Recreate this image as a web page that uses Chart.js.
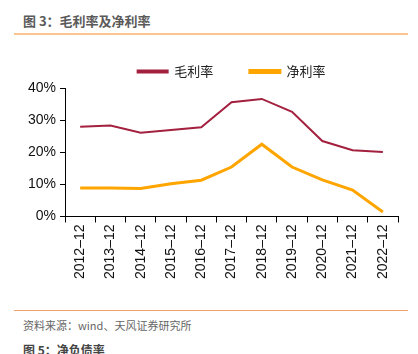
<!DOCTYPE html>
<html>
<head>
<meta charset="utf-8">
<script src="https://cdn.jsdelivr.net/npm/chart.js@4.4.0/dist/chart.umd.min.js"></script>
<style>
  body { margin: 0; background: #fff; width: 418px; height: 354px; overflow: hidden; position: relative; font-family: "Liberation Sans", "Noto Sans CJK SC", sans-serif; }
  #title { position: absolute; left: 23px; top: 11px; font-size: 13px; font-weight: bold; color: #5a5a5a; font-family: "Noto Sans CJK SC", sans-serif; }
  #topline { position: absolute; left: 14px; top: 33px; width: 394px; height: 2px; background: #FBC490; }
  #botline { position: absolute; left: 14px; top: 310px; width: 394px; height: 1px; background: #F0A46A; }
  #source { position: absolute; left: 23px; top: 317px; font-size: 11px; color: #666; font-family: "Noto Sans CJK SC", sans-serif; }
  #next { position: absolute; left: 23px; top: 341px; font-size: 12px; font-weight: bold; color: #444; font-family: "Noto Sans CJK SC", sans-serif; }
  #wrap { position: absolute; left: 0; top: 37px; width: 418px; height: 244px; }
</style>
</head>
<body>
<div id="title">图 3：毛利率及净利率</div>
<div id="topline"></div>
<div id="wrap"><canvas id="myChart"></canvas></div>
<div id="botline"></div>
<div id="source">资料来源：wind、天风证券研究所</div>
<div id="next">图 5：净负债率</div>
<script>
const labels = ["2012–12","2013–12","2014–12","2015–12","2016–12","2017–12","2018–12","2019–12","2020–12","2021–12","2022–12"];
const grossMargin = [27.9, 28.3, 26.1, 26.9, 27.8, 35.6, 36.6, 32.6, 23.5, 20.6, 20.1];
const netMargin = [8.9, 8.9, 8.7, 10.2, 11.3, 15.4, 22.5, 15.4, 11.4, 8.2, 1.4];
const yTicks = [0, 10, 20, 30, 40];

const ctx = document.getElementById('myChart').getContext('2d');
const myChart = new Chart(ctx, {
    type: 'line',
    data: {
        labels: labels,
        datasets: [
            {
                label: '毛利率',
                data: grossMargin,
                borderColor: '#A3203F',
                backgroundColor: '#A3203F',
                borderWidth: 2,
                pointRadius: 0,
                tension: 0
            },
            {
                label: '净利率',
                data: netMargin,
                borderColor: '#FFA500',
                backgroundColor: '#FFA500',
                borderWidth: 3,
                pointRadius: 0,
                tension: 0
            }
        ]
    },
    options: {
        responsive: true,
        maintainAspectRatio: false,
        animation: false,
        layout: { padding: { left: 24, right: 20, top: 0, bottom: 0 } },
        plugins: {
            legend: {
                position: 'top',
                fullSize: false,
                labels: {
                    boxWidth: 30,
                    boxHeight: 2,
                    padding: 28,
                    color: '#222',
                    font: { size: 13, family: '"Noto Sans CJK SC", sans-serif' },
                    generateLabels: function(chart) {
                        const items = Chart.defaults.plugins.legend.labels.generateLabels(chart);
                        // a bit more room between the two entries
                        items[0].text = items[0].text + '   ';
                        return items;
                    }
                }
            },
            tooltip: { enabled: false }
        },
        scales: {
            x: {
                offset: true,
                grid: { display: true, drawOnChartArea: false, offset: true, tickLength: 6, color: '#000' },
                border: { color: '#000', width: 1 },
                ticks: {
                    maxRotation: 90,
                    minRotation: 90,
                    color: '#111',
                    font: { size: 14, family: '"Liberation Sans", sans-serif' },
                    padding: 2
                }
            },
            y: {
                min: 0,
                max: 40,
                afterBuildTicks: function(axis) {
                    axis.ticks = yTicks.map(v => ({ value: v }));
                },
                grid: { display: true, drawOnChartArea: false, tickLength: 5, color: '#000' },
                border: { color: '#000', width: 1 },
                ticks: {
                    color: '#111',
                    font: { size: 14, family: '"Liberation Sans", sans-serif' },
                    padding: 4,
                    callback: function(v) { return v + '%'; }
                }
            }
        }
    }
});
</script>
</body>
</html>
